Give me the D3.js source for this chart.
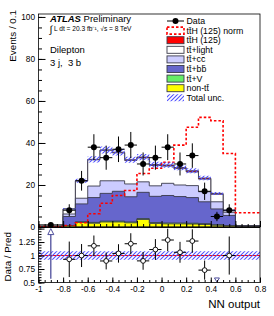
<!DOCTYPE html>
<html>
<head>
<meta charset="utf-8">
<script src="https://cdn.jsdelivr.net/npm/d3@7"></script>
<style>
  body { margin: 0; background: #fff; }
  svg { display: block; }
</style>
</head>
<body>
<div id="chart"></div>
<script>
// Defines dimensions of SVG
var width = 274;
var height = 316;
var font = "'Liberation Sans', Arial, Helvetica, sans-serif";

// Bin edges of the NN output histogram (first and last bins are 0.2 wide)
var binEdges = [-1, -0.8, -0.7, -0.6, -0.5, -0.4, -0.3, -0.2, -0.1, 0, 0.1, 0.2, 0.3, 0.4, 0.5, 0.6, 0.8];

// Stack contributions per bin, Events / 0.1, bottom of the stack first
var nonTT   = [0.1, 0.6, 2.2, 1.8, 2.4, 2.4, 2.0, 3.6, 1.7, 1.5, 1.5, 1.4, 1.2, 0.8, 0.5, 0.1];
var ttV     = [0.02, 0.1, 0.3, 0.4, 0.4, 0.4, 0.4, 0.4, 0.4, 0.4, 0.4, 0.4, 0.4, 0.3, 0.2, 0.05];
var ttBB    = [0.08, 4.3, 8.5, 11.8, 13.2, 14.2, 12.0, 12.5, 12.5, 13.1, 12.6, 12.2, 10.4, 7.5, 4.8, 0.35];
var ttCC    = [0.1, 1.2, 2.7, 5.5, 6.0, 5.0, 6.1, 5.0, 5.0, 5.8, 5.5, 5.7, 4.8, 3.4, 1.5, 0.1];
var ttLight = [0.05, 2.35, 8.2, 12.5, 14.5, 13.3, 11.2, 11.4, 9.7, 8.2, 7.8, 6.5, 6.0, 3.6, 0.7, 0.05];
var ttH     = [0.0, 0.05, 0.1, 0.2, 0.2, 0.3, 0.3, 0.4, 0.4, 0.5, 0.5, 0.6, 0.5, 0.4, 0.3, 0.05];

// ttH signal normalised to the background, dashed line
var ttHNorm = [0.2, 0.7, 2.0, 6.3, 11.3, 15.0, 17.4, 25.5, 28.0, 30.8, 39.0, 47.5, 52.2, 50.6, 35.0, 6.8];

// Observed events
var dataCounts = [1, 8, 22, 38, 33, 37, 39, 30, 33, 38, 30, 34, 17, 5, 8, 0];

// Relative size of the total uncertainty band, main and ratio panel
var uncMain = 0.045;
var uncRatio = 0.08;

// Tick labels
var xTickLabels = [-1, -0.8, -0.6, -0.4, -0.2, 0, 0.2, 0.4, 0.6, 0.8];
var yTickLabels = [0, 20, 40, 60, 80, 100];
var rTickLabels = [0.5, 0.75, 1, 1.25];

// Legend entries
var legendNames = ["Data", "tt\u0304H (125) norm", "tt\u0304H (125)", "tt\u0304+light", "tt\u0304+cc\u0304", "tt\u0304+bb\u0304", "tt\u0304+V", "non-tt\u0304", "Total unc."];

// Appends SVG Canvas to document body
var svg = d3.select("#chart").append("svg")
    .attr("width", width)
    .attr("height", height)
    .style("font-family", font);

var hatchColor = "#5050ff";
// every hatched region is added to this clip path, the diagonal lines are drawn through it
var hatchClip = svg.append("defs").append("clipPath").attr("id", "hatchClip");

// Scales
var x = d3.scaleLinear().domain([-1, 0.8]).range([38.5, 260]);
var y = d3.scaleLinear().domain([0, 101.4]).range([227, 14]);
var yR = d3.scaleLinear().domain([0.5, 1.52]).range([282.5, 227.5]);

var nBins = binEdges.length - 1;
var bins = d3.range(nBins).map(function(i) {
  return { i: i, lo: binEdges[i], hi: binEdges[i + 1], c: (binEdges[i] + binEdges[i + 1]) / 2 };
});

// Stack layers, bottom first
var layers = [
  { name: "nonTT", values: nonTT, fill: "#ffff00" },
  { name: "ttV", values: ttV, fill: "#66ee66" },
  { name: "ttBB", values: ttBB, fill: "#6666cc" },
  { name: "ttCC", values: ttCC, fill: "#ccccff" },
  { name: "ttLight", values: ttLight, fill: "#ffffff" },
  { name: "ttH", values: ttH, fill: "#ff0000" }
];

// cumulative tops of every layer
var running = bins.map(function() { return 0; });
layers.forEach(function(l) {
  l.tops = l.values.map(function(v, i) { running[i] += v; return running[i]; });
});
var total = running.slice();

// closed step outline from 0 up to the given per-bin tops
function stepArea(tops) {
  var d = "M" + x(binEdges[0]) + "," + y(0);
  tops.forEach(function(t, i) {
    d += "L" + x(binEdges[i]) + "," + y(t) + "L" + x(binEdges[i + 1]) + "," + y(t);
  });
  d += "L" + x(binEdges[nBins]) + "," + y(0) + "Z";
  return d;
}

function stepLine(vals) {
  var d = "";
  vals.forEach(function(t, i) {
    d += (i === 0 ? "M" : "L") + x(binEdges[i]) + "," + y(t) + "L" + x(binEdges[i + 1]) + "," + y(t);
  });
  return d;
}

// Draw stack from the top layer down so lower layers paint over
var stackG = svg.append("g").attr("class", "stack");
layers.slice().reverse().forEach(function(l) {
  stackG.append("path")
      .attr("d", stepArea(l.tops))
      .attr("fill", l.fill)
      .attr("stroke", "#3a3a4a")
      .attr("stroke-width", 0.9);
});

// Total uncertainty band regions, main panel and ratio panel
hatchClip.selectAll(".main")
    .data(bins)
  .enter().append("rect")
    .attr("x", function(d) { return x(d.lo); })
    .attr("width", function(d) { return x(d.hi) - x(d.lo); })
    .attr("y", function(d) { return y(total[d.i] * (1 + uncMain)); })
    .attr("height", function(d) { return y(total[d.i] * (1 - uncMain)) - y(total[d.i] * (1 + uncMain)); });
hatchClip.append("rect")
    .attr("x", x(-1))
    .attr("width", x(0.8) - x(-1))
    .attr("y", yR(1 + uncRatio))
    .attr("height", yR(1 - uncRatio) - yR(1 + uncRatio));

// ttH normalised dashed line
svg.append("path")
    .attr("d", stepLine(ttHNorm))
    .attr("fill", "none")
    .attr("stroke", "#ff0000")
    .attr("stroke-width", 1.6)
    .attr("stroke-dasharray", "2.5,2");

// Ratio reference line
svg.append("line")
    .attr("x1", x(-1)).attr("x2", x(0.8))
    .attr("y1", yR(1)).attr("y2", yR(1))
    .attr("stroke", "#ff0000")
    .attr("stroke-width", 1);

// Legend (hatch swatch joins the clip path too)
var legX = 167, legW = 17, legH = 7, legY0 = 21, legDy = 9.6;
var legend = svg.append("g").attr("class", "legend");
legendNames.forEach(function(name, i) {
  var cy = legY0 + i * legDy;
  var g = legend.append("g");
  if (i === 0) {
    g.append("line").attr("x1", legX).attr("x2", legX + legW).attr("y1", cy).attr("y2", cy).attr("stroke", "#000");
    g.append("circle").attr("cx", legX + legW / 2).attr("cy", cy).attr("r", 3).attr("fill", "#000");
  } else if (i === 1) {
    g.append("rect").attr("x", legX).attr("y", cy - legH / 2).attr("width", legW).attr("height", legH)
        .attr("fill", "none").attr("stroke", "#ff0000").attr("stroke-width", 1.6).attr("stroke-dasharray", "2.5,2");
  } else if (i === legendNames.length - 1) {
    hatchClip.append("rect").attr("x", legX).attr("y", cy - legH / 2).attr("width", legW).attr("height", legH);
  } else {
    var fills = { 2: "#ff0000", 3: "#ffffff", 4: "#ccccff", 5: "#6666cc", 6: "#66ee66", 7: "#ffff00" };
    g.append("rect").attr("x", legX).attr("y", cy - legH / 2).attr("width", legW).attr("height", legH)
        .attr("fill", fills[i]).attr("stroke", "#3a3a4a").attr("stroke-width", 0.9);
  }
  g.append("text").attr("x", legX + legW + 2.5).attr("y", cy + 3).attr("font-size", 8.8).text(name);
});

// Diagonal hatch lines, clipped to the band regions
svg.append("g")
    .attr("clip-path", "url(#hatchClip)")
  .selectAll("line")
    .data(d3.range(-height, width + 4, 4))
  .enter().append("line")
    .attr("x1", function(a) { return a; })
    .attr("y1", height)
    .attr("x2", function(a) { return a + height; })
    .attr("y2", 0)
    .attr("stroke", hatchColor)
    .attr("stroke-width", 1.1);

// Data points with Poisson errors
var dataG = svg.append("g").attr("class", "data");
var dataPts = bins.filter(function(d) { return dataCounts[d.i] > 0; });
dataG.selectAll(".ex")
    .data(dataPts)
  .enter().append("line")
    .attr("x1", function(d) { return x(d.lo); })
    .attr("x2", function(d) { return x(d.hi); })
    .attr("y1", function(d) { return y(dataCounts[d.i]); })
    .attr("y2", function(d) { return y(dataCounts[d.i]); })
    .attr("stroke", "#000");
dataG.selectAll(".ey")
    .data(dataPts)
  .enter().append("line")
    .attr("x1", function(d) { return x(d.c); })
    .attr("x2", function(d) { return x(d.c); })
    .attr("y1", function(d) { return y(dataCounts[d.i] + Math.sqrt(dataCounts[d.i])); })
    .attr("y2", function(d) { return y(Math.max(0, dataCounts[d.i] - Math.sqrt(dataCounts[d.i]))); })
    .attr("stroke", "#000");
dataG.selectAll("circle")
    .data(dataPts)
  .enter().append("circle")
    .attr("cx", function(d) { return x(d.c); })
    .attr("cy", function(d) { return y(dataCounts[d.i]); })
    .attr("r", 3)
    .attr("fill", "#000");

// Ratio points
var ratioG = svg.append("g").attr("class", "ratio");
var ratioPts = [];
var upArrows = [];
var downArrows = [];
bins.forEach(function(d) {
  if (dataCounts[d.i] <= 0) return;
  var r = dataCounts[d.i] / total[d.i];
  var e = Math.sqrt(dataCounts[d.i]) / total[d.i];
  if (r > 1.52) upArrows.push(d);
  else if (r < 0.5) downArrows.push(d);
  else ratioPts.push({ bin: d, r: r, e: e });
});

ratioG.selectAll(".ex")
    .data(ratioPts)
  .enter().append("line")
    .attr("x1", function(d) { return x(d.bin.lo); })
    .attr("x2", function(d) { return x(d.bin.hi); })
    .attr("y1", function(d) { return yR(d.r); })
    .attr("y2", function(d) { return yR(d.r); })
    .attr("stroke", "#000");
ratioG.selectAll(".ey")
    .data(ratioPts)
  .enter().append("line")
    .attr("x1", function(d) { return x(d.bin.c); })
    .attr("x2", function(d) { return x(d.bin.c); })
    .attr("y1", function(d) { return yR(Math.min(1.52, d.r + d.e)); })
    .attr("y2", function(d) { return yR(Math.max(0.5, d.r - d.e)); })
    .attr("stroke", "#000");
ratioG.selectAll("circle")
    .data(ratioPts)
  .enter().append("circle")
    .attr("cx", function(d) { return x(d.bin.c); })
    .attr("cy", function(d) { return yR(d.r); })
    .attr("r", 2.4)
    .attr("fill", "#fff")
    .attr("stroke", "#000")
    .attr("stroke-width", 0.9);

// Out of range arrows
var arrowColor = "#4f4f9c";
upArrows.forEach(function(d) {
  var cx = x(d.c);
  ratioG.append("line")
      .attr("x1", cx).attr("x2", cx)
      .attr("y1", yR(0.57)).attr("y2", yR(1.42))
      .attr("stroke", arrowColor)
      .attr("stroke-width", 1.3);
  ratioG.append("path")
      .attr("d", "M" + cx + "," + yR(1.5) + "l3,6h-6z")
      .attr("fill", "#fff")
      .attr("stroke", arrowColor);
});
downArrows.forEach(function(d) {
  var cx = x(d.c);
  ratioG.append("path")
      .attr("d", "M" + cx + "," + yR(0.51) + "l2.5,-4h-5z")
      .attr("fill", "#fff")
      .attr("stroke", arrowColor);
});

// Frames
svg.append("rect")
    .attr("x", 38.5).attr("y", 14)
    .attr("width", 260 - 38.5).attr("height", 227 - 14)
    .attr("fill", "none").attr("stroke", "#000").attr("stroke-width", 0.8);
svg.append("rect")
    .attr("x", 38.5).attr("y", 227.5)
    .attr("width", 260 - 38.5).attr("height", 282.5 - 227.5)
    .attr("fill", "none").attr("stroke", "#000").attr("stroke-width", 0.8);

// Axes
function styleAxis(g) {
  g.select(".domain").remove();
  g.selectAll("line").attr("stroke", "#000");
  g.selectAll("text").attr("font-family", font).attr("font-size", 8.3).attr("fill", "#000");
}

var yMajor = svg.append("g").attr("transform", "translate(38.5,0)")
    .call(d3.axisRight(y).tickValues(yTickLabels).tickSize(7).tickFormat(""));
styleAxis(yMajor);
var yMinor = svg.append("g").attr("transform", "translate(38.5,0)")
    .call(d3.axisRight(y).tickValues(d3.range(0, 101, 5)).tickSize(3.5).tickFormat(""));
styleAxis(yMinor);
var yLabels = svg.append("g").attr("transform", "translate(38.5,0)")
    .call(d3.axisLeft(y).tickValues(yTickLabels).tickSize(0).tickPadding(3.5));
styleAxis(yLabels);

var rMajor = svg.append("g").attr("transform", "translate(38.5,0)")
    .call(d3.axisRight(yR).tickValues([0.5, 0.75, 1, 1.25, 1.5]).tickSize(6).tickFormat(""));
styleAxis(rMajor);
var rMinor = svg.append("g").attr("transform", "translate(38.5,0)")
    .call(d3.axisRight(yR).tickValues(d3.range(0.5, 1.51, 0.05)).tickSize(3).tickFormat(""));
styleAxis(rMinor);
var rLabels = svg.append("g").attr("transform", "translate(38.5,0)")
    .call(d3.axisLeft(yR).tickValues(rTickLabels).tickSize(0).tickPadding(3.5).tickFormat(function(d) { return String(d); }));
styleAxis(rLabels);

var xMinorVals = d3.range(-1, 0.801, 0.05);
[227, 282.5].forEach(function(yy, k) {
  var maj = svg.append("g").attr("transform", "translate(0," + yy + ")")
      .call(d3.axisTop(x).tickValues(xTickLabels).tickSize(k ? 5 : 6).tickFormat(""));
  styleAxis(maj);
  var mnr = svg.append("g").attr("transform", "translate(0," + yy + ")")
      .call(d3.axisTop(x).tickValues(xMinorVals).tickSize(k ? 2.5 : 3).tickFormat(""));
  styleAxis(mnr);
});
var xLabels = svg.append("g").attr("transform", "translate(0,282.5)")
    .call(d3.axisBottom(x).tickValues(xTickLabels).tickSize(0).tickPadding(4).tickFormat(function(d) { return String(d); }));
styleAxis(xLabels);

// Axis titles
svg.append("text")
    .attr("transform", "translate(16,10) rotate(-90)")
    .attr("text-anchor", "end")
    .attr("font-size", 9.8)
    .text("Events / 0.1");
svg.append("text")
    .attr("transform", "translate(10.5,232) rotate(-90)")
    .attr("text-anchor", "end")
    .attr("font-size", 9.8)
    .text("Data / Pred");
svg.append("text")
    .attr("x", 260).attr("y", 307.5)
    .attr("text-anchor", "end")
    .attr("font-size", 11.5)
    .text("NN output");

// ATLAS label
var atlas = svg.append("text").attr("x", 50).attr("y", 21.5).attr("font-size", 9.5);
atlas.append("tspan").attr("font-weight", "bold").attr("font-style", "italic").text("ATLAS");
atlas.append("tspan").text(" Preliminary");
svg.append("text").attr("x", 49.5).attr("y", 33).attr("font-size", 10).text("\u222B");
svg.append("text").attr("x", 54).attr("y", 31).attr("font-size", 6.6)
    .text("L dt = 20.3 fb\u207B\u00B9, \u221As = 8 TeV");
svg.append("text").attr("x", 50).attr("y", 52.5).attr("font-size", 9.5).text("Dilepton");
svg.append("text").attr("x", 50).attr("y", 66).attr("font-size", 9.5)
    .attr("xml:space", "preserve").style("white-space", "pre").text("3 j,  3 b");
</script>
</body>
</html>
